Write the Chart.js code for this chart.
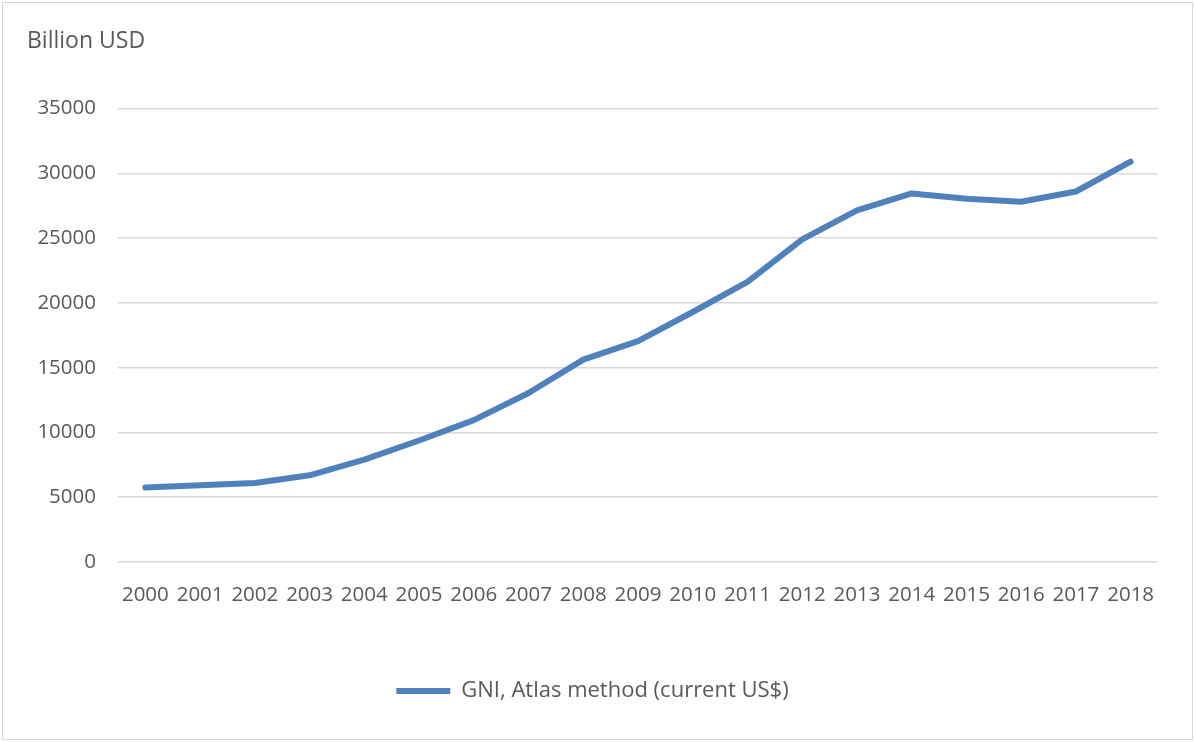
<!DOCTYPE html>
<html>
<head>
<meta charset="utf-8">
<script src="https://cdn.jsdelivr.net/npm/chart.js@4"></script>
<style>
  html, body { margin: 0; padding: 0; background: #fff; }
  #wrap { position: relative; width: 1195px; height: 742px; }
  #frame { position: absolute; left: 2px; top: 2px; width: 1189px; height: 736px; border: 1px solid #d9d9d9; pointer-events: none; }
</style>
</head>
<body>
<div id="wrap">
  <canvas id="gniChart" width="1195" height="742"></canvas>
  <div id="frame"></div>
</div>
<script>
// Datos (miles de millones USD)
const years = ['2000', '2001', '2002', '2003', '2004', '2005', '2006', '2007', '2008', '2009',
               '2010', '2011', '2012', '2013', '2014', '2015', '2016', '2017', '2018'];
const gniValues = [5760, 5920, 6100, 6690, 7900, 9380, 10950, 13050, 15620, 17050,
                   19300, 21620, 24900, 27150, 28450, 28040, 27810, 28600, 30900];
const seriesLabel = 'GNI, Atlas method (current US$)';
const unitLabel = 'Billion USD';

const FONT = "'Open Sans', sans-serif";
const TEXT = '#595959';
const GRID = '#d9d9d9';
const BLUE = '#4f81bd';

const ctx = document.getElementById('gniChart').getContext('2d');

const gniChart = new Chart(ctx, {
  type: 'line',
  data: {
    labels: years,
    datasets: [{
      label: seriesLabel,
      data: gniValues,
      borderColor: BLUE,
      backgroundColor: BLUE,
      borderWidth: 6,
      borderCapStyle: 'round',
      borderJoinStyle: 'round',
      pointRadius: 0,
      tension: 0,
      fill: false
    }]
  },
  options: {
    responsive: false,
    animation: false,
    layout: {
      padding: { left: 27, right: 37, top: 0, bottom: 30 }
    },
    plugins: {
      title: {
        display: true,
        text: unitLabel,
        align: 'start',
        color: TEXT,
        font: { family: FONT, size: 23, weight: 'normal' },
        padding: { top: 28, bottom: 53 }
      },
      legend: {
        position: 'bottom',
        labels: {
          color: TEXT,
          font: { family: FONT, size: 22 },
          usePointStyle: true,
          pointStyle: 'line',
          pointStyleWidth: 54,
          padding: 10
        }
      },
      tooltip: { enabled: false }
    },
    scales: {
      x: {
        offset: true,
        grid: { display: false },
        border: { display: false },
        ticks: {
          color: TEXT,
          font: { family: FONT, size: 20.5 },
          maxRotation: 0,
          autoSkip: false,
          padding: 13
        },
        afterFit: (scale) => { scale.height = 108; }
      },
      y: {
        min: 0,
        max: 35000,
        grid: { color: GRID, lineWidth: 1.5, drawTicks: false },
        border: { display: false },
        ticks: {
          stepSize: 5000,
          color: TEXT,
          font: { family: FONT, size: 20.5 },
          padding: 22,
          callback: (value) => String(value)
        },
        afterFit: (scale) => { scale.width = 91; }
      }
    }
  }
});
</script>
</body>
</html>
